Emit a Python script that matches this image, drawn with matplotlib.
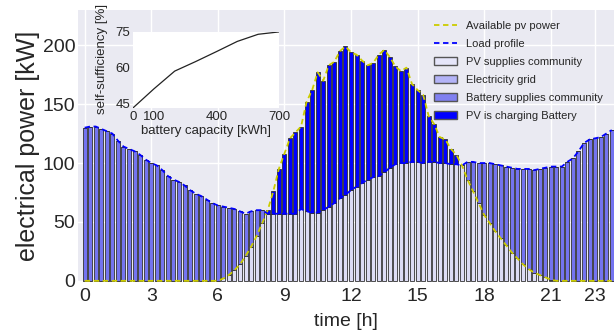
import numpy as np
import matplotlib
matplotlib.use("Agg")
import matplotlib.pyplot as plt
from matplotlib.patches import Patch

plt.rcParams['font.family'] = ['Liberation Sans', 'DejaVu Sans']

# 15-minute resolution, 96 steps
t = np.arange(96) * 0.25

load = [130, 131, 131, 129, 127, 125, 119, 114, 112, 110, 107, 103,
        100, 98, 94, 89, 86, 84, 81, 77, 74, 72, 69, 66,
        64, 63, 62, 61, 59, 57, 59, 60, 60, 57, 57, 57,
        57, 57, 57, 61, 59, 58, 58, 60, 63, 66, 70, 73,
        77, 80, 83, 86, 88, 89, 92, 96, 99, 100, 100, 101,
        101, 100, 101, 101, 100, 100, 99, 99, 98, 101, 101, 100,
        100, 100, 99, 98, 97, 96, 95, 95, 95, 94, 95, 96,
        97, 97, 97, 101, 104, 110, 117, 120, 121, 122, 125, 128]

pv = [0] * 24 + [
        0, 2, 5, 9, 14, 21, 29, 38, 49, 60, 76, 95,
        108, 121, 126, 131, 152, 162, 177, 170, 183, 186, 195, 199,
        194, 192, 187, 183, 185, 192, 196, 190, 182, 178, 181, 167,
        162, 158, 140, 133, 122, 120, 112, 107, 98, 86, 76, 66,
        56, 49, 42, 36, 30, 24, 19, 14, 10, 7, 5, 3,
        1, 0, 0, 0, 0, 0, 0, 0, 0, 0, 0, 0]

cap = [0, 100, 200, 300, 400, 500, 600, 700]
self_suff = [43, 51, 58.5, 62.5, 66.7, 71, 74, 75]

load = np.array(load, float)
pv = np.array(pv, float)
pv_comm = np.minimum(pv, load)
pv_batt = np.maximum(pv - load, 0)
batt_comm = np.maximum(load - pv, 0)

c_pv = '#dcdcf5'
c_grid = '#b3b3f7'
c_batt = '#7474f0'
c_charge = '#0000ff'

fig = plt.figure(figsize=(6.14, 3.31), dpi=100)
ax = fig.add_axes([0.127, 0.148, 0.873, 0.822])
ax.set_facecolor('#EAEAF2')
for s in ax.spines.values():
    s.set_visible(False)
ax.grid(True, color='white', lw=1)
ax.set_axisbelow(True)

w = 0.18
kw = dict(width=w, edgecolor='#333333', linewidth=0.6)
ax.bar(t, pv_comm, color=c_pv, **kw)
ax.bar(t, batt_comm, bottom=pv_comm, color=c_batt, **kw)
ax.bar(t, pv_batt, bottom=load, color=c_charge, **kw)
l1, = ax.plot(t, pv, '--', color='#cccc00', lw=1.3, dashes=(3, 2))
l2, = ax.plot(t, load, '--', color='#0000ff', lw=1.3, dashes=(3, 2))

ax.set_xlim(-0.3, 23.85)
ax.set_ylim(-1, 230)
ax.set_xticks([0, 3, 6, 9, 12, 15, 18, 21, 23])
ax.set_yticks([0, 50, 100, 150, 200])
ax.tick_params(axis='x', length=0, labelsize=14, colors='#262626', pad=4)
ax.tick_params(axis='y', length=0, labelsize=14, colors='#262626', pad=2)
ax.set_xlabel('time [h]', fontsize=14, color='#262626', labelpad=6)
ax.set_ylabel('electrical power [kW]', fontsize=18, color='#262626', labelpad=2)

edge = dict(edgecolor='#555555', linewidth=1)
handles = [l1, l2,
           Patch(facecolor='#e6e6fa', **edge),
           Patch(facecolor=c_grid, **edge),
           Patch(facecolor='#8080f0', **edge),
           Patch(facecolor=c_charge, **edge)]
labels = ['Available pv power', 'Load profile', 'PV supplies community',
          'Electricity grid', 'Battery supplies community', 'PV is charging Battery']
ax.legend(handles, labels, loc='upper right', frameon=False, fontsize=8,
          handlelength=2.1, labelspacing=0.72, borderaxespad=0.6,
          labelcolor='#262626')

# inset
ins = fig.add_axes([0.2166, 0.674, 0.2378, 0.2296])
ins.set_facecolor('white')
for s in ins.spines.values():
    s.set_visible(False)
ins.plot(cap, self_suff, color='#222222', lw=0.9)
ins.set_xlim(0, 700)
ins.set_ylim(43, 75)
ins.set_xticks([0, 100, 400, 700])
ins.set_yticks([45, 60, 75])
ins.tick_params(length=0, labelsize=9.5, colors='#262626', pad=2)
ins.set_xlabel('battery capacity [kWh]', fontsize=9.5, color='#262626', labelpad=2)
ins.set_ylabel('self-sufficiency [%]', fontsize=9.5, color='#262626')
ins.yaxis.set_label_coords(-0.17, 0.65)

fig.savefig('out.png', dpi=100)
